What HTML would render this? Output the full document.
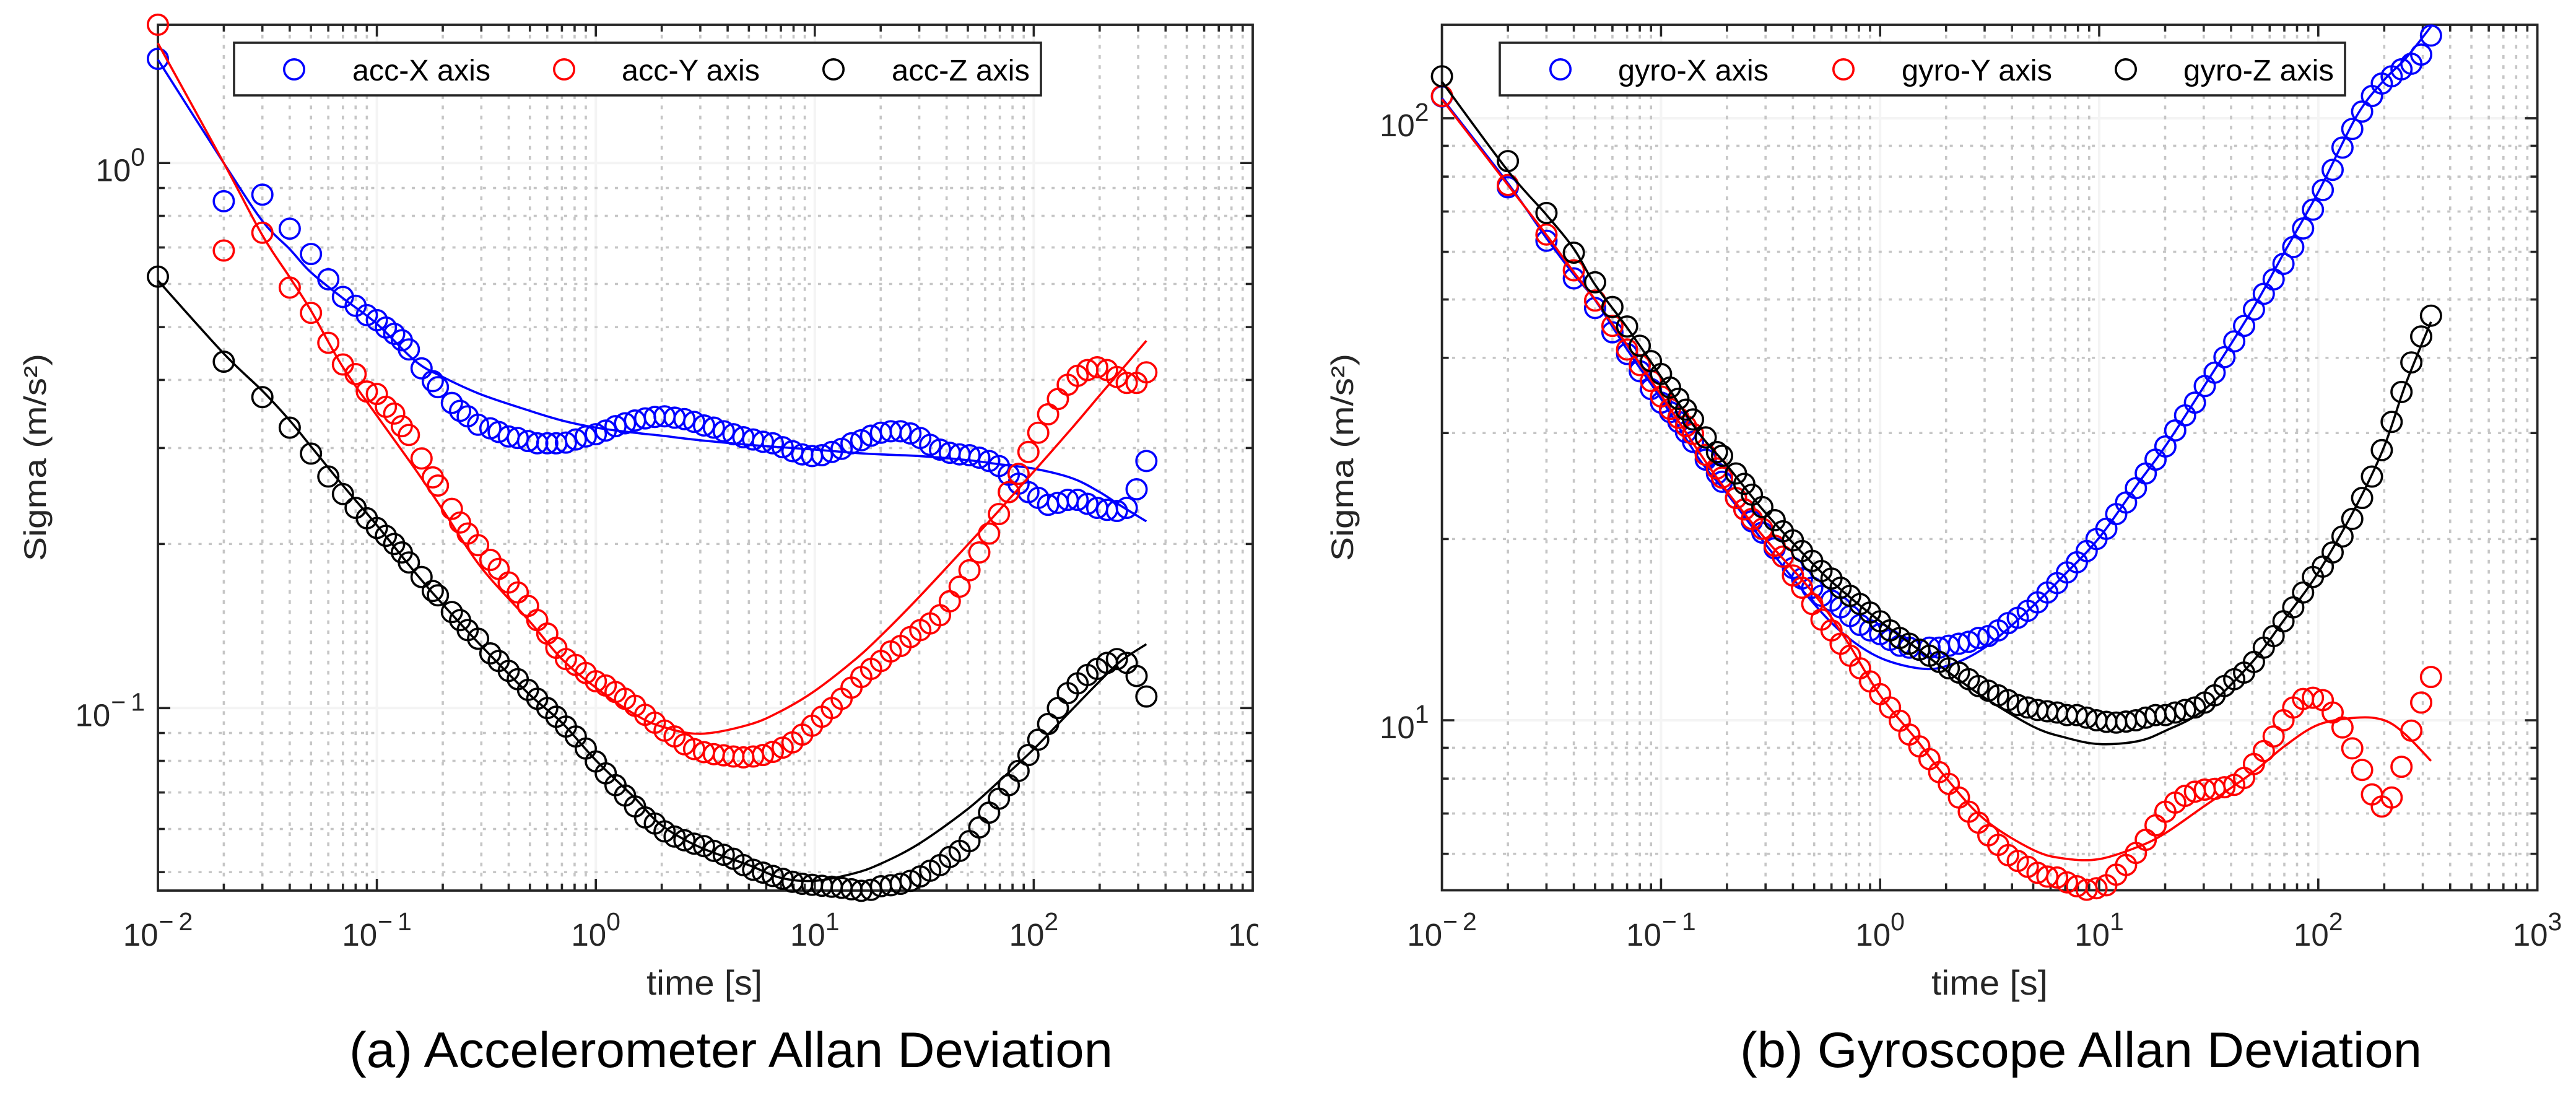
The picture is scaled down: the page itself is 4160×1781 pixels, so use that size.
<!DOCTYPE html>
<html lang="en">
<head>
<meta charset="utf-8">
<title>Accelerometer and Gyroscope Allan Deviation</title>
<style>
html,body{margin:0;padding:0;background:#fff;width:4160px;height:1781px;overflow:hidden}
svg{display:block;font-family:"Liberation Sans",Arial,sans-serif}
</style>
</head>
<body>
<svg id="figure" xmlns="http://www.w3.org/2000/svg" width="4160" height="1781" viewBox="0 0 4160 1781">
  <defs>
    <clipPath id="left-label-clip"><rect x="0" y="0" width="2032" height="1781"/></clipPath>
  </defs>
  <g id="panel-a"></g>
  <g id="panel-b"></g>
  <text transform="translate(74,906) rotate(-90)" font-size="50" fill="#262626" textLength="335" lengthAdjust="spacingAndGlyphs">Sigma (m/s²)</text>
  <text transform="translate(2185,906) rotate(-90)" font-size="50" fill="#262626" textLength="335" lengthAdjust="spacingAndGlyphs">Sigma (m/s²)</text>
  <text x="1044" y="1606" font-size="56" fill="#262626" textLength="187" lengthAdjust="spacingAndGlyphs">time [s]</text>
  <text x="3119" y="1606" font-size="56" fill="#262626" textLength="188" lengthAdjust="spacingAndGlyphs">time [s]</text>
  <text x="564" y="1723" font-size="81" fill="#000" textLength="1233" lengthAdjust="spacingAndGlyphs">(a) Accelerometer Allan Deviation</text>
  <text x="2810" y="1723" font-size="81" fill="#000" textLength="1101" lengthAdjust="spacingAndGlyphs">(b) Gyroscope Allan Deviation</text>
</svg>
<script>
/* ---------- data ---------- */
const tauSeconds = [
0.01,0.02,0.03,0.04,0.05,0.06,0.07,0.08,0.09,0.10,
0.11,0.12,0.13,0.14,0.16,0.18,0.19,0.22,0.24,0.26,
0.29,0.33,0.36,0.40,0.44,0.49,0.54,0.60,0.66,0.73,
0.81,0.90,1.00,
1.11,1.23,1.36,1.51,1.68,1.86,2.06,2.29,2.54,2.81,
3.12,3.46,3.84,4.25,4.72,5.23,5.80,6.43,7.13,7.91,
8.77,9.72,10.78,11.96,13.26,14.71,16.31,18.08,20.05,22.24,
24.66,27.35,30.33,33.63,37.30,41.36,45.86,50.86,56.40,62.54,
69.35,76.90,85.28,94.57,104.87,116.29,128.95,142.99,158.57,175.84,
194.99,216.23,239.78,265.90,294.86,326.98];

const accXSigma = [
1.553,.851,.875,.758,.681,.612,.568,.547,.526,.515,
.499,.486,.473,.455,.420,.398,.388,.363,.351,.343,
.331,.326,.321,.315,.313,.309,.306,.306,.306,.307,
.311,.315,.318,
.323,.329,.333,.337,.340,.342,.343,.341,.339,.335,
.330,.327,.322,.318,.314,.311,.308,.306,.301,.296,
.292,.290,.291,.295,.299,.306,.310,.316,.320,.322,
.322,.319,.313,.304,.298,.294,.292,.291,.288,.284,
.278,.268,.258,.249,.243,.236,.238,.241,.241,.237,
.233,.231,.230,.233,.252,.284];

const accYSigma = [
1.794,.691,.745,.591,.531,.468,.427,.410,.381,.377,
.357,.347,.329,.317,.287,.265,.256,.232,.219,.209,
.199,.187,.180,.170,.163,.154,.145,.137,.129,.123,
.120,.116,.112,
.110,.107,.104,.101,.0972,.0940,.0909,.0887,.0858,.0841,
.0830,.0823,.0819,.0815,.0812,.0815,.0820,.0831,.0846,.0865,
.0894,.0928,.0964,.100,.104,.109,.114,.118,.122,.127,
.130,.135,.139,.143,.148,.157,.167,.179,.193,.209,
.227,.249,.269,.295,.320,.346,.369,.392,.407,.417,
.422,.417,.405,.395,.395,.413];

const accZSigma = [
.619,.432,.372,.327,.293,.266,.247,.233,.223,.214,
.207,.200,.193,.185,.174,.164,.161,.150,.145,.139,
.134,.126,.122,.117,.113,.108,.104,.100,.0964,.0925,
.0887,.0843,.0798,
.0759,.0722,.0691,.0660,.0630,.0614,.0594,.0581,.0572,.0564,
.0558,.0547,.0538,.0529,.0515,.0505,.0499,.0492,.0486,.0480,
.0476,.0474,.0472,.0470,.0468,.0465,.0462,.0464,.0471,.0473,
.0476,.0482,.0491,.0503,.0515,.0533,.0547,.0570,.0604,.0643,
.0682,.0722,.0767,.0820,.0875,.0935,.100,.1065,.111,.115,
.118,.121,.123,.121,.1145,.105];

const gyroXSigma = [
108.7,76.8,62.6,54.2,48.4,44.1,40.6,38.0,35.5,33.7,
32.5,31.3,30.1,29.0,27.1,25.7,24.9,23.4,22.4,21.4,
20.5,19.3,18.7,17.9,17.2,16.6,16.1,15.8,15.4,14.9,
14.4,14.1,13.9,
13.6,13.3,13.2,13.1,13.2,13.2,13.3,13.4,13.5,13.7,
13.8,14.1,14.5,14.8,15.2,15.7,16.3,16.9,17.6,18.3,
19.1,20.0,20.8,22.0,23.0,24.3,25.7,27.1,28.5,30.3,
32.1,33.7,35.9,37.8,40.1,42.6,45.2,48.1,51.1,54.0,
57.3,61.1,65.6,70.5,76.0,82.1,89.4,96.0,102.6,108.9,
114.2,117.4,120.6,123.2,127.6,137.2];

const gyroYSigma = [
108.9,77.5,64.1,55.9,49.8,45.2,41.3,38.9,36.6,34.5,
32.9,31.8,30.8,29.9,27.6,26.2,25.3,23.4,22.4,21.6,
20.8,19.5,18.7,17.4,16.6,15.6,14.7,14.1,13.4,12.8,
12.2,11.6,11.05,
10.5,9.98,9.47,9.05,8.62,8.2,7.84,7.44,7.05,6.76,
6.44,6.21,5.97,5.84,5.71,5.58,5.50,5.48,5.38,5.30,
5.23,5.26,5.32,5.54,5.75,6.02,6.33,6.69,7.05,7.30,
7.49,7.61,7.67,7.69,7.74,7.81,8.02,8.46,8.89,9.40,
10.0,10.5,10.85,10.9,10.8,10.3,9.73,8.98,8.27,7.53,
7.19,7.44,8.37,9.61,10.7,11.8];

const gyroZSigma = [
117.4,84.9,69.6,59.8,53.4,48.6,45.1,41.9,39.5,37.6,
35.7,34.2,32.8,31.6,29.5,27.9,27.5,25.7,24.7,23.7,
22.6,21.5,20.6,19.9,19.1,18.4,17.7,17.2,16.6,16.1,
15.6,15.1,14.6,
14.1,13.7,13.4,13.1,12.8,12.5,12.2,12.0,11.7,11.4,
11.2,11.0,10.8,10.6,10.5,10.4,10.35,10.3,10.2,10.2,
10.1,10.0,9.94,9.91,9.95,10.0,10.1,10.2,10.2,10.3,
10.4,10.5,10.7,11.0,11.4,11.7,12.0,12.5,13.2,13.8,
14.6,15.4,16.3,17.3,18.0,19.0,20.2,21.6,23.4,25.4,
28.1,31.3,35.1,39.3,43.4,47.0];

const fitTauSeconds = [.01,.02,.03,.04,.05,.07,.1,.15,.2,.3,.5,.7,1,1.5,2,3,5,7,10,15,20,30,50,70,100,150,200,250,327];

const accXFit = [1.548,1.0,.783,.695,.63,.565,.507,.433,.405,.376,.351,.337,.327,.320,.316,.310,.304,.301,.298,.294,.292,.290,.285,.280,.275,.264,.249,.235,.220];
const accYFit = [1.659,1.0,.737,.617,.536,.422,.344,.274,.231,.181,.144,.123,.109,.0975,.0925,.0897,.0932,.0987,.1075,.122,.1356,.160,.1995,.2313,.2716,.327,.3747,.416,.472];
const accZFit = [.609,.447,.382,.337,.302,.256,.2165,.177,.155,.130,.1057,.0940,.0802,.0685,.0609,.0555,.0515,.0488,.0482,.0497,.0518,.0564,.0653,.0736,.0841,.0995,.112,.122,.131];
const gyroXFit = [108,78,63.2,55,49.9,41.3,34.2,27.1,23.8,19.6,15.6,13.8,12.7,12.2,12.3,13.2,15.5,17.5,20.1,24.7,28.5,35.8,48.1,59.9,75.4,101,115.8,125.6,142];
const gyroYFit = [107.5,77.5,64,55.5,50,42,34.7,27.8,24.0,20.0,16.2,13.6,11.0,9.19,8.02,6.84,6.09,5.89,5.88,6.16,6.49,7.19,8.18,9.05,9.83,10.1,10.0,9.47,8.56];
const gyroZFit = [115,81.8,69.1,60.7,52.9,44.9,37.2,29.9,26.5,22.1,18.1,16.2,14.6,13.1,12.1,10.9,9.76,9.36,9.13,9.23,9.6,10.4,12.5,14.7,17.6,22.8,28.5,36.1,45.9];

const xTickExponents = [-2,-1,0,1,2,3];
const accYTickExponents = [-1,0];
const gyroYTickExponents = [1,2];
const accLegendLabels = ["acc-X axis","acc-Y axis","acc-Z axis"];
const gyroLegendLabels = ["gyro-X axis","gyro-Y axis","gyro-Z axis"];

/* ---------- drawing ---------- */
const NS = "http://www.w3.org/2000/svg";
const INK = "#262626";
function mk(parent, tag, attrs) {
  const el = document.createElementNS(NS, tag);
  for (const k in attrs) el.setAttribute(k, attrs[k]);
  parent.appendChild(el);
  return el;
}
function xAxis(p, tau) { return p.left + (Math.log10(tau) - p.xLogMin) / (p.xLogMax - p.xLogMin) * (p.right - p.left); }
function yAxis(p, sigma) { return p.bottom - (Math.log10(sigma) - p.yLogMin) / (p.yLogMax - p.yLogMin) * (p.bottom - p.top); }

function smoothPath(pts) {
  let d = "M" + pts[0][0].toFixed(1) + " " + pts[0][1].toFixed(1);
  for (let i = 0; i < pts.length - 1; i++) {
    const a = pts[Math.max(0, i - 1)], b = pts[i], c = pts[i + 1], e = pts[Math.min(pts.length - 1, i + 2)];
    const c1x = b[0] + (c[0] - a[0]) / 6, c1y = b[1] + (c[1] - a[1]) / 6;
    const c2x = c[0] - (e[0] - b[0]) / 6, c2y = c[1] - (e[1] - b[1]) / 6;
    d += "C" + c1x.toFixed(1) + " " + c1y.toFixed(1) + " " + c2x.toFixed(1) + " " + c2y.toFixed(1) + " " + c[0].toFixed(1) + " " + c[1].toFixed(1);
  }
  return d;
}

function powerLabel(parent, x, y, exponent, anchor) {
  const t = mk(parent, "text", {x: x, y: y, "font-size": 51, fill: INK, "text-anchor": anchor});
  t.textContent = "10";
  const s = mk(t, "tspan", {dy: -25, dx: 1, "font-size": 41});
  s.textContent = exponent < 0 ? "\u2212" : "";
  const s2 = mk(t, "tspan", {dx: exponent < 0 ? 8 : 0, "font-size": 41});
  if (exponent >= 0) s2.setAttribute("dy", -25);
  s2.textContent = String(Math.abs(exponent));
  return t;
}

function drawPanel(root, p, series, fits, legendLabels, yTickExponents) {
  const grid = mk(root, "g", {});
  
  

  const W = p.right - p.left;
  /* major grid */
  for (const e of xTickExponents) {
    const x = xAxis(p, Math.pow(10, e));
    if (e > p.xLogMin && e < p.xLogMax) {
      const l = mk(grid, "line", {x1: x, x2: x, y1: p.top, y2: p.bottom, stroke: "#f4f4f4", "stroke-width": 4});
      
      
    }
  }
  for (const e of yTickExponents) {
    const y = yAxis(p, Math.pow(10, e));
    const l = mk(grid, "line", {x1: p.left, x2: p.right, y1: y, y2: y, stroke: "#f4f4f4", "stroke-width": 4});
    
    
  }

  const axes = mk(root, "g", {});
  
  

  /* x minor + major ticks, minor grid */
  for (let d = p.xLogMin; d < p.xLogMax; d++) {
    for (let k = 1; k < 10; k++) {
      const x = xAxis(p, k * Math.pow(10, d));
      const len = k === 1 ? 19 : 11;
      if (k > 1) {
        const g = mk(grid, "line", {x1: x, x2: x, y1: p.top, y2: p.bottom, stroke: "#c6c6c6", "stroke-width": 3.6, "stroke-dasharray": "6 10.3"});
        
        
      }
      if (k > 1 || d > p.xLogMin) {
        const t1 = mk(axes, "line", {x1: x, x2: x, y1: p.bottom, y2: p.bottom - len, stroke: INK, "stroke-width": 3.6});
        
        
        const t2 = mk(axes, "line", {x1: x, x2: x, y1: p.top, y2: p.top + len, stroke: INK, "stroke-width": 3.6});
        
        
      }
    }
  }
  /* y minor + major ticks, minor grid */
  for (let d = Math.floor(p.yLogMin); d < Math.ceil(p.yLogMax); d++) {
    for (let k = 1; k < 10; k++) {
      const v = k * Math.pow(10, d), lv = Math.log10(v);
      if (lv < p.yLogMin || lv > p.yLogMax) continue;
      const y = yAxis(p, v);
      const len = k === 1 ? 20 : 11;
      if (k > 1) {
        const g = mk(grid, "line", {x1: p.left, x2: p.right, y1: y, y2: y, stroke: "#c6c6c6", "stroke-width": 3.6, "stroke-dasharray": "5 11.4"});
        
        
      }
      const t1 = mk(axes, "line", {x1: p.left, x2: p.left + len, y1: y, y2: y, stroke: INK, "stroke-width": 3.6});
      
      
      const t2 = mk(axes, "line", {x1: p.right, x2: p.right - len, y1: y, y2: y, stroke: INK, "stroke-width": 3.6});
      
      
    }
  }

  /* box */
  const box = mk(axes, "rect", {x: p.left, y: p.top, width: W, height: p.bottom - p.top, fill: "none", stroke: INK, "stroke-width": 3.8});
  
  

  /* tick labels */
  const xl = mk(root, "g", {});
  
  
  if (p.clipLabels) xl.setAttribute("clip-path", "url(#left-label-clip)");
  for (const e of xTickExponents) {
    const t = powerLabel(xl, xAxis(p, Math.pow(10, e)), 1527, e, "middle");
    
    
  }
  const yl = mk(root, "g", {});
  
  
  for (const e of yTickExponents) {
    const t = powerLabel(yl, p.left - 21, yAxis(p, Math.pow(10, e)) + 29, e, "end");
    
    
  }

  /* series */
  series.forEach(function (s, i) {
    const g = mk(root, "g", {});
    
    
    s.values.forEach(function (v, j) {
      const c = mk(g, "circle", {cx: xAxis(p, tauSeconds[j]).toFixed(1), cy: yAxis(p, v).toFixed(1), r: 16.2, fill: "none", stroke: s.color, "stroke-width": 3.6});
      
      
    });
    const pts = fits[i].map(function (v, j) { return [xAxis(p, fitTauSeconds[j]), yAxis(p, v)]; });
    const path = mk(g, "path", {d: smoothPath(pts), fill: "none", stroke: s.color, "stroke-width": 3.6});
    
    
  });

  /* legend */
  const lg = mk(root, "g", {});
  
  
  const lb = mk(lg, "rect", {x: p.legendX, y: 69, width: p.legendW, height: 85, fill: "#fff", stroke: INK, "stroke-width": 3.6});
  
  
  series.forEach(function (s, i) {
    const m = mk(lg, "circle", {cx: p.legendMarkers[i], cy: 112, r: 16.2, fill: "none", stroke: s.color, "stroke-width": 3.6});
    
    
    const t = mk(lg, "text", {x: p.legendTexts[i], y: 130, "font-size": 48, fill: "#000", textLength: p.legendTextW, lengthAdjust: "spacingAndGlyphs"});
    t.textContent = legendLabels[i];
    
    
  });
}

const panelA = {key: "accelerometer", left: 255, right: 2023, top: 40, bottom: 1438, xLogMin: -2, xLogMax: 3,
  yLogMin: -1.3349, yLogMax: 0.2537, clipLabels: true,
  legendX: 378, legendW: 1303, legendMarkers: [475, 911, 1346], legendTexts: [569, 1004, 1440], legendTextW: 223};
const panelB = {key: "gyroscope", left: 2328.6, right: 4097.6, top: 40, bottom: 1437.5, xLogMin: -2, xLogMax: 3,
  yLogMin: 0.7176, yLogMax: 2.1553, clipLabels: false,
  legendX: 2422, legendW: 1365, legendMarkers: [2520, 2977, 3433], legendTexts: [2613, 3071, 3526], legendTextW: 243};

drawPanel(document.getElementById("panel-a"), panelA, [
  {name: "acc-x", color: "#0000ff", values: accXSigma},
  {name: "acc-y", color: "#ff0000", values: accYSigma},
  {name: "acc-z", color: "#000000", values: accZSigma}
], [accXFit, accYFit, accZFit], accLegendLabels, accYTickExponents);

drawPanel(document.getElementById("panel-b"), panelB, [
  {name: "gyro-x", color: "#0000ff", values: gyroXSigma},
  {name: "gyro-y", color: "#ff0000", values: gyroYSigma},
  {name: "gyro-z", color: "#000000", values: gyroZSigma}
], [gyroXFit, gyroYFit, gyroZFit], gyroLegendLabels, gyroYTickExponents);
</script>
</body>
</html>
